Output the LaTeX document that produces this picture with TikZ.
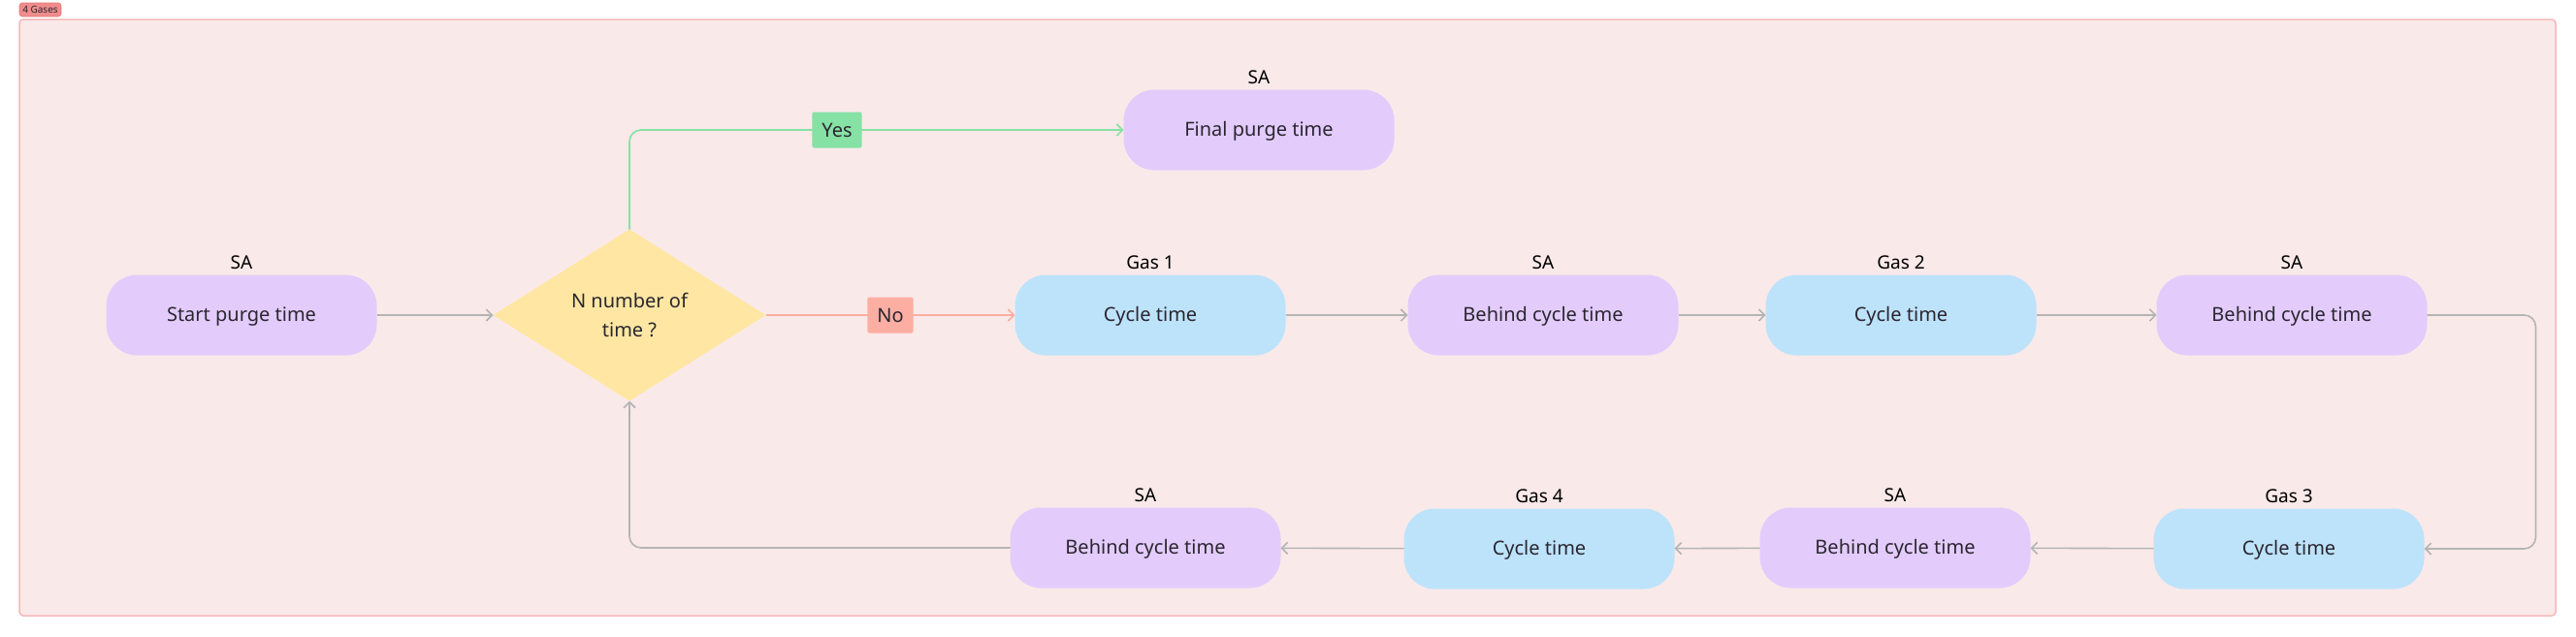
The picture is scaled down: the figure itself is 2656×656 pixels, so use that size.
\documentclass[tikz,border=0pt]{standalone}
\usepackage{fontspec}
\setmainfont{Noto Sans}
\usetikzlibrary{arrows.meta,shapes.geometric,positioning}

\definecolor{framebg}{HTML}{FAE9E9}
\definecolor{frameline}{HTML}{F5B8B8}
\definecolor{tagred}{HTML}{F08C8C}
\definecolor{tagline}{HTML}{E27373}
\definecolor{sapurple}{HTML}{E3CCFC}
\definecolor{gasblue}{HTML}{BDE3FB}
\definecolor{decyellow}{HTML}{FFE7A3}
\definecolor{yesgreen}{HTML}{86E1A5}
\definecolor{nored}{HTML}{FDAEA2}
\definecolor{linegray}{HTML}{B4B4B4}
\definecolor{txt}{HTML}{2B2630}

\begin{document}
\begin{tikzpicture}[x=1pt,y=-1pt,
  font=\fontsize{20}{30}\selectfont, text=txt,
  lbl/.style={font=\fontsize{19}{21}\selectfont, inner sep=1pt, text=black},
  every label/.style={lbl},
  label distance=5pt,
  box/.style={rounded corners=32pt, minimum width=279pt, minimum height=83pt, inner sep=0pt, outer sep=0pt, text depth=2pt},
  sabox/.style={box, fill=sapurple},
  gasbox/.style={box, fill=gasblue},
  decision/.style={diamond, fill=decyellow, minimum width=281pt, minimum height=177pt, inner sep=0pt, outer sep=0pt, align=center},
  flow/.style={draw=linegray, line width=1.6pt, -{Straight Barb[length=6pt,width=12pt]}},
  answer/.style={rounded corners=2pt, minimum height=37pt, inner xsep=10pt, text=txt},
  tagbox/.style={fill=tagred, draw=tagline, line width=0.6pt, rounded corners=3pt, font=\fontsize{10}{11}\selectfont, minimum width=43pt, minimum height=14pt, inner sep=1pt}]

\useasboundingbox (0,0) rectangle (2656,656);
\draw[frameline, fill=framebg, line width=1.5pt, rounded corners=4pt] (20,20) rectangle (2635,635);
\node[tagbox] (tag) at (41.5,10) {4 Gases};

\node[sabox, label=above:SA] (start) at (249,325) {Start purge time};
\node[decision] (dec) at (649,325) {N number of\\time ?};
\node[sabox, label=above:SA] (final) at (1298,134) {Final purge time};

\node[gasbox, label=above:Gas 1] (cyc1) at (1186,325) {Cycle time};
\node[sabox, label=above:SA] (beh1) at (1591,325) {Behind cycle time};
\node[gasbox, label=above:Gas 2] (cyc2) at (1960,325) {Cycle time};
\node[sabox, label=above:SA] (beh2) at (2363,325) {Behind cycle time};

\node[gasbox, label=above:Gas 3] (cyc3) at (2360,566) {Cycle time};
\node[sabox, label=above:SA] (beh3) at (1954,565) {Behind cycle time};
\node[gasbox, label=above:Gas 4] (cyc4) at (1587,566) {Cycle time};
\node[sabox, label=above:SA] (beh4) at (1181,565) {Behind cycle time};

\draw[flow] (start) -- (dec);
\draw[flow, draw=yesgreen, rounded corners=12pt] (dec.north) |- (final.west)
  node[answer, fill=yesgreen, pos=0.71] {Yes};
\draw[flow, draw=nored] (dec.east) -- (cyc1.west)
  node[answer, fill=nored, midway] {No};
\draw[flow] (cyc1) -- (beh1);
\draw[flow] (beh1) -- (cyc2);
\draw[flow] (cyc2) -- (beh2);
\draw[flow, rounded corners=12pt] (beh2.east) -- ++(112,0) |- (cyc3.east);
\draw[flow] (cyc3) -- (beh3);
\draw[flow] (beh3) -- (cyc4);
\draw[flow] (cyc4) -- (beh4);
\draw[flow, rounded corners=12pt] (beh4.west) -| (dec.south);
\end{tikzpicture}
\end{document}
